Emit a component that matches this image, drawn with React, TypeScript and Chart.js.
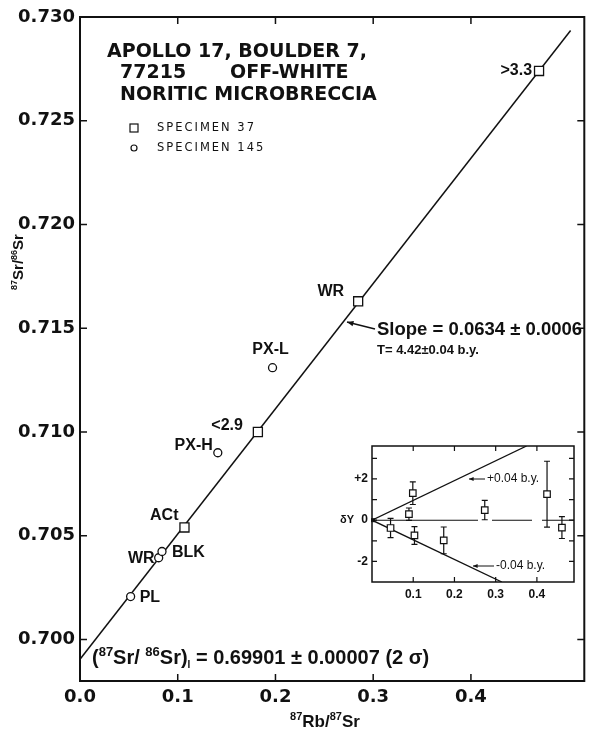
import React, { useEffect, useRef } from 'react';
import { Chart, registerables } from 'chart.js';

Chart.register(...registerables);

const FONT = '"DejaVu Sans", sans-serif';
const FONT2 = '"Liberation Sans", Arial, sans-serif';
const INK = '#111';

// ---- main isochron diagram data ----
const X_TICKS = [0, 0.1, 0.2, 0.3, 0.4];
const Y_TICKS = [0.7, 0.705, 0.71, 0.715, 0.72, 0.725, 0.73];
const ISOCHRON_X = [0, 0.502];
const ISOCHRON_Y = [0.69905, 0.72935];

const SPEC37_LABELS = ['>3.3', 'WR', '<2.9', 'ACt'];
const SPEC37_X = [0.4697, 0.2846, 0.182, 0.1069];
const SPEC37_Y = [0.7274, 0.7163, 0.71, 0.7054];

const SPEC145_LABELS = ['PX-L', 'PX-H', 'WR', 'BLK', 'PL'];
const SPEC145_X = [0.197, 0.141, 0.0805, 0.0839, 0.0518];
const SPEC145_Y = [0.7131, 0.709, 0.70394, 0.70424, 0.70207];

const TITLE_1 = 'APOLLO 17, BOULDER 7,';
const TITLE_2A = '77215';
const TITLE_2B = 'OFF-WHITE';
const TITLE_3 = 'NORITIC MICROBRECCIA';
const LEGEND_37 = 'SPECIMEN 37';
const LEGEND_145 = 'SPECIMEN 145';
const SLOPE_TEXT = 'Slope = 0.0634 ± 0.0006';
const AGE_TEXT = 'T= 4.42±0.04 b.y.';
const INITIAL_VALUE_TEXT = ' = 0.69901 ± 0.00007 (2 σ)';

// ---- inset (deviation plot) data ----
const INSET_X_TICKS = [0.1, 0.2, 0.3, 0.4];
const INSET_Y_TICKS = [-3, -2, -1, 0, 1, 2, 3];
const INSET_X = [0.045, 0.0896, 0.099, 0.103, 0.174, 0.2735, 0.4246, 0.4607];
const INSET_Y = [-0.38, 0.29, 1.31, -0.74, -0.98, 0.49, 1.26, -0.36];
const INSET_ERR = [0.47, 0.3, 0.55, 0.43, 0.65, 0.47, 1.6, 0.53];
const PLUS_X = [0, 0.375];
const PLUS_Y = [0, 3.6];
const MINUS_X = [0, 0.315];
const MINUS_Y = [0, -3.0];
const ZERO_X = [0, 0.49];
const ZERO_Y = [0, 0];
const PLUS_TEXT = '+0.04 b.y.';
const MINUS_TEXT = '-0.04 b.y.';

// label placement (style, not data)
const SPEC37_POS = [
  { dx: -7, dy: 0, align: 'right' },
  { dx: -14, dy: -10, align: 'right' },
  { dx: -15, dy: -6, align: 'right' },
  { dx: -6, dy: -12, align: 'right' },
];
const SPEC145_POS = [
  { dx: -2, dy: -18, align: 'center' },
  { dx: -5, dy: -7, align: 'right' },
  { dx: -4, dy: 1, align: 'right' },
  { dx: 10, dy: 1, align: 'left' },
  { dx: 9, dy: 1, align: 'left' },
];

type Seg = { t: string; s: number; dy?: number; w?: string };

function drawRich(
  ctx: CanvasRenderingContext2D,
  segs: Seg[],
  x: number,
  y: number,
  align: string,
  family: string = FONT
) {
  let total = 0;
  const widths = segs.map((sg) => {
    ctx.font = `${sg.w || 'bold'} ${sg.s}px ${family}`;
    const w = ctx.measureText(sg.t).width;
    total += w;
    return w;
  });
  let cx = align === 'center' ? x - total / 2 : align === 'right' ? x - total : x;
  ctx.textAlign = 'left';
  ctx.textBaseline = 'alphabetic';
  segs.forEach((sg, i) => {
    ctx.font = `${sg.w || 'bold'} ${sg.s}px ${family}`;
    ctx.fillText(sg.t, cx, y + (sg.dy || 0));
    cx += widths[i];
  });
}

function arrow(ctx: CanvasRenderingContext2D, fx: number, fy: number, tx: number, ty: number, head = 6) {
  const ang = Math.atan2(ty - fy, tx - fx);
  ctx.beginPath();
  ctx.moveTo(fx, fy);
  ctx.lineTo(tx, ty);
  ctx.stroke();
  ctx.beginPath();
  ctx.moveTo(tx, ty);
  ctx.lineTo(tx - head * Math.cos(ang - 0.4), ty - head * Math.sin(ang - 0.4));
  ctx.lineTo(tx - head * Math.cos(ang + 0.4), ty - head * Math.sin(ang + 0.4));
  ctx.closePath();
  ctx.fill();
}

const mainPlugin = {
  id: 'mainDecor',
  afterDraw(chart: any) {
    const { ctx, chartArea: a } = chart;
    const xs = chart.scales.x;
    const ys = chart.scales.y;
    ctx.save();
    ctx.strokeStyle = INK;
    ctx.fillStyle = INK;
    ctx.lineWidth = 2;
    ctx.strokeRect(a.left, a.top, a.right - a.left, a.bottom - a.top);
    ctx.lineWidth = 1.5;
    ctx.beginPath();
    X_TICKS.forEach((v) => {
      if (v === 0) return;
      const px = xs.getPixelForValue(v);
      ctx.moveTo(px, a.bottom);
      ctx.lineTo(px, a.bottom - 7);
      ctx.moveTo(px, a.top);
      ctx.lineTo(px, a.top + 7);
    });
    Y_TICKS.forEach((v) => {
      const py = ys.getPixelForValue(v);
      if (Math.abs(py - a.top) < 2) return;
      ctx.moveTo(a.left, py);
      ctx.lineTo(a.left + 7, py);
      ctx.moveTo(a.right, py);
      ctx.lineTo(a.right - 7, py);
    });
    ctx.stroke();

    // point labels
    ctx.textBaseline = 'middle';
    ctx.font = `bold 16px ${FONT2}`;
    SPEC37_LABELS.forEach((t, i) => {
      const p = SPEC37_POS[i];
      ctx.textAlign = p.align;
      ctx.fillText(t, xs.getPixelForValue(SPEC37_X[i]) + p.dx, ys.getPixelForValue(SPEC37_Y[i]) + p.dy);
    });
    SPEC145_LABELS.forEach((t, i) => {
      const p = SPEC145_POS[i];
      ctx.textAlign = p.align;
      ctx.fillText(t, xs.getPixelForValue(SPEC145_X[i]) + p.dx, ys.getPixelForValue(SPEC145_Y[i]) + p.dy);
    });

    // title
    ctx.textAlign = 'left';
    ctx.font = `bold 19px ${FONT}`;
    ctx.fillText(TITLE_1, 107, 52);
    ctx.fillText(TITLE_2A, 120, 73);
    ctx.fillText(TITLE_2B, 230, 73);
    ctx.fillText(TITLE_3, 120, 95);

    // legend
    ctx.lineWidth = 1.2;
    ctx.strokeRect(130, 124, 8, 8);
    ctx.beginPath();
    ctx.arc(134, 148, 3, 0, Math.PI * 2);
    ctx.stroke();
    ctx.font = `11.5px ${FONT}`;
    (ctx as any).letterSpacing = '2px';
    ctx.fillText(LEGEND_37, 157, 128);
    ctx.fillText(LEGEND_145, 157, 148);
    (ctx as any).letterSpacing = '0px';

    // slope annotation
    ctx.lineWidth = 1.3;
    arrow(ctx, 375, 329, 347, 322, 7);
    ctx.font = `bold 18.5px ${FONT2}`;
    ctx.fillText(SLOPE_TEXT, 377, 330);
    ctx.font = `bold 13px ${FONT2}`;
    ctx.fillText(AGE_TEXT, 377, 350);

    // initial ratio
    drawRich(
      ctx,
      [
        { t: '(', s: 20 },
        { t: '87', s: 13, dy: -8 },
        { t: 'Sr/ ', s: 20 },
        { t: '86', s: 13, dy: -8 },
        { t: 'Sr)', s: 20 },
        { t: 'I', s: 10, dy: 4 },
        { t: INITIAL_VALUE_TEXT, s: 20 },
      ],
      92,
      664,
      'left',
      FONT2
    );

    // x-axis title
    drawRich(
      ctx,
      [
        { t: '87', s: 11, dy: -7 },
        { t: 'Rb/', s: 17 },
        { t: '87', s: 11, dy: -7 },
        { t: 'Sr', s: 17 },
      ],
      325,
      727,
      'center',
      FONT2
    );

    // y-axis title
    ctx.save();
    ctx.translate(18, 262);
    ctx.rotate(-Math.PI / 2);
    drawRich(
      ctx,
      [
        { t: '87', s: 9, dy: -6 },
        { t: 'Sr/', s: 15 },
        { t: '86', s: 9, dy: -6 },
        { t: 'Sr', s: 15 },
      ],
      0,
      5,
      'center',
      FONT2
    );
    ctx.restore();
    ctx.restore();
  },
};

const insetPlugin = {
  id: 'insetDecor',
  beforeDatasetsDraw(chart: any) {
    const { ctx } = chart;
    const xs = chart.scales.x;
    const ys = chart.scales.y;
    ctx.save();
    ctx.strokeStyle = INK;
    ctx.lineWidth = 1.2;
    ctx.beginPath();
    INSET_X.forEach((xv, i) => {
      const px = xs.getPixelForValue(xv);
      const top = ys.getPixelForValue(INSET_Y[i] + INSET_ERR[i]);
      const bot = ys.getPixelForValue(INSET_Y[i] - INSET_ERR[i]);
      ctx.moveTo(px, top);
      ctx.lineTo(px, bot);
      ctx.moveTo(px - 3, top);
      ctx.lineTo(px + 3, top);
      ctx.moveTo(px - 3, bot);
      ctx.lineTo(px + 3, bot);
    });
    ctx.stroke();
    ctx.restore();
  },
  afterDraw(chart: any) {
    const { ctx, chartArea: a } = chart;
    const xs = chart.scales.x;
    const ys = chart.scales.y;
    ctx.save();
    ctx.strokeStyle = INK;
    ctx.fillStyle = INK;
    ctx.lineWidth = 1.5;
    ctx.strokeRect(a.left, a.top, a.right - a.left, a.bottom - a.top);
    ctx.lineWidth = 1.2;
    ctx.beginPath();
    INSET_X_TICKS.forEach((v) => {
      const px = xs.getPixelForValue(v);
      ctx.moveTo(px, a.bottom);
      ctx.lineTo(px, a.bottom - 5);
      ctx.moveTo(px, a.top);
      ctx.lineTo(px, a.top + 5);
    });
    INSET_Y_TICKS.forEach((v) => {
      const py = ys.getPixelForValue(v);
      if (Math.abs(py - a.bottom) < 2) return;
      ctx.moveTo(a.left, py);
      ctx.lineTo(a.left + 5, py);
      ctx.moveTo(a.right, py);
      ctx.lineTo(a.right - 5, py);
    });
    ctx.stroke();
    // origin dot
    const ox = xs.getPixelForValue(0);
    const oy = ys.getPixelForValue(0);
    ctx.fillRect(ox - 1, oy - 2, 4, 4);
    // dY label
    ctx.font = `bold 11px ${FONT2}`;
    ctx.textAlign = 'left';
    ctx.textBaseline = 'middle';
    ctx.fillText('δY', 10, oy);
    // arrows + text
    ctx.lineWidth = 1;
    arrow(ctx, 155, 49, 139, 49, 5);
    arrow(ctx, 164, 136, 143, 136, 5);
    ctx.font = `12px ${FONT2}`;
    ctx.fillText(PLUS_TEXT, 157, 49);
    ctx.fillText(MINUS_TEXT, 166, 136);
    ctx.restore();
  },
};

export default function App() {
  const mainRef = useRef<HTMLCanvasElement>(null);
  const insetRef = useRef<HTMLCanvasElement>(null);

  useEffect(() => {
    document.body.style.margin = '0';
    const tickFont = { family: FONT, size: 18, weight: 'bold' as const };
    const main = new Chart(mainRef.current as HTMLCanvasElement, {
      type: 'scatter',
      data: {
        datasets: [
          {
            label: LEGEND_37,
            data: SPEC37_X.map((x, i) => ({ x, y: SPEC37_Y[i] })),
            pointStyle: 'rect',
            pointRadius: 6.4,
            pointBackgroundColor: '#fff',
            pointBorderColor: INK,
            pointBorderWidth: 1.3,
            order: 0,
          },
          {
            label: LEGEND_145,
            data: SPEC145_X.map((x, i) => ({ x, y: SPEC145_Y[i] })),
            pointStyle: 'circle',
            pointRadius: 4,
            pointBackgroundColor: '#fff',
            pointBorderColor: INK,
            pointBorderWidth: 1.3,
            order: 1,
          },
          {
            type: 'line',
            label: 'isochron',
            data: ISOCHRON_X.map((x, i) => ({ x, y: ISOCHRON_Y[i] })),
            borderColor: INK,
            borderWidth: 1.5,
            pointRadius: 0,
            fill: false,
            order: 2,
          } as any,
        ],
      },
      options: {
        responsive: false,
        animation: false,
        events: [],
        layout: { padding: { top: 17, right: 5, left: 0, bottom: 0 } },
        plugins: { legend: { display: false }, tooltip: { enabled: false } },
        scales: {
          x: {
            type: 'linear',
            min: 0,
            max: 0.516,
            grid: { display: false, drawTicks: false },
            border: { display: false },
            ticks: {
              padding: 6,
              color: INK,
              font: tickFont,
              maxRotation: 0,
              autoSkip: false,
              callback: (v: any) => Number(v).toFixed(1),
            },
            afterBuildTicks: (s: any) => {
              s.ticks = X_TICKS.map((value) => ({ value }));
            },
            afterFit: (s: any) => {
              s.height = 48;
            },
          },
          y: {
            type: 'linear',
            min: 0.698,
            max: 0.73,
            grid: { display: false, drawTicks: false },
            border: { display: false },
            ticks: {
              padding: 5,
              color: INK,
              font: tickFont,
              autoSkip: false,
              callback: (v: any) => Number(v).toFixed(3),
            },
            afterBuildTicks: (s: any) => {
              s.ticks = Y_TICKS.map((value) => ({ value }));
            },
            afterFit: (s: any) => {
              s.width = 80;
            },
          },
        },
      },
      plugins: [mainPlugin],
    });

    const insetTickFont = { family: FONT2, size: 12, weight: 'bold' as const };
    const inset = new Chart(insetRef.current as HTMLCanvasElement, {
      type: 'scatter',
      data: {
        datasets: [
          {
            data: INSET_X.map((x, i) => ({ x, y: INSET_Y[i] })),
            pointStyle: 'rect',
            pointRadius: 4.6,
            pointBackgroundColor: '#fff',
            pointBorderColor: INK,
            pointBorderWidth: 1.2,
            order: 0,
          },
          {
            type: 'line',
            data: PLUS_X.map((x, i) => ({ x, y: PLUS_Y[i] })),
            borderColor: INK,
            borderWidth: 1.3,
            pointRadius: 0,
            order: 1,
          } as any,
          {
            type: 'line',
            data: MINUS_X.map((x, i) => ({ x, y: MINUS_Y[i] })),
            borderColor: INK,
            borderWidth: 1.3,
            pointRadius: 0,
            order: 1,
          } as any,
          {
            type: 'line',
            data: ZERO_X.map((x, i) => ({ x, y: ZERO_Y[i] })),
            borderColor: INK,
            borderWidth: 1.1,
            borderDash: [106, 14, 40, 10, 300],
            pointRadius: 0,
            order: 1,
          } as any,
        ],
      },
      options: {
        responsive: false,
        animation: false,
        events: [],
        layout: { padding: { top: 16, right: 18, left: 0, bottom: 0 } },
        plugins: { legend: { display: false }, tooltip: { enabled: false } },
        scales: {
          x: {
            type: 'linear',
            min: 0,
            max: 0.49,
            grid: { display: false, drawTicks: false },
            border: { display: false },
            ticks: {
              padding: 5,
              color: INK,
              font: insetTickFont,
              maxRotation: 0,
              autoSkip: false,
              callback: (v: any) => Number(v).toFixed(1),
            },
            afterBuildTicks: (s: any) => {
              s.ticks = INSET_X_TICKS.map((value) => ({ value }));
            },
            afterFit: (s: any) => {
              s.height = 23;
            },
          },
          y: {
            type: 'linear',
            min: -3,
            max: 3.6,
            grid: { display: false, drawTicks: false },
            border: { display: false },
            ticks: {
              padding: 4,
              color: INK,
              font: insetTickFont,
              autoSkip: false,
              callback: (v: any) => (v === 2 ? '+2' : v === 0 ? '0' : v === -2 ? '-2' : ''),
            },
            afterBuildTicks: (s: any) => {
              s.ticks = INSET_Y_TICKS.map((value) => ({ value }));
            },
            afterFit: (s: any) => {
              s.width = 42;
            },
          },
        },
      },
      plugins: [insetPlugin],
    });

    return () => {
      main.destroy();
      inset.destroy();
    };
  }, []);

  return (
    <div style={{ position: 'relative', width: 592, height: 729, background: '#fff', overflow: 'hidden' }}>
      <canvas
        ref={mainRef}
        width={592}
        height={729}
        style={{ position: 'absolute', left: 0, top: 0, width: 592, height: 729 }}
      />
      <canvas
        ref={insetRef}
        width={262}
        height={175}
        style={{ position: 'absolute', left: 330, top: 430, width: 262, height: 175 }}
      />
    </div>
  );
}
